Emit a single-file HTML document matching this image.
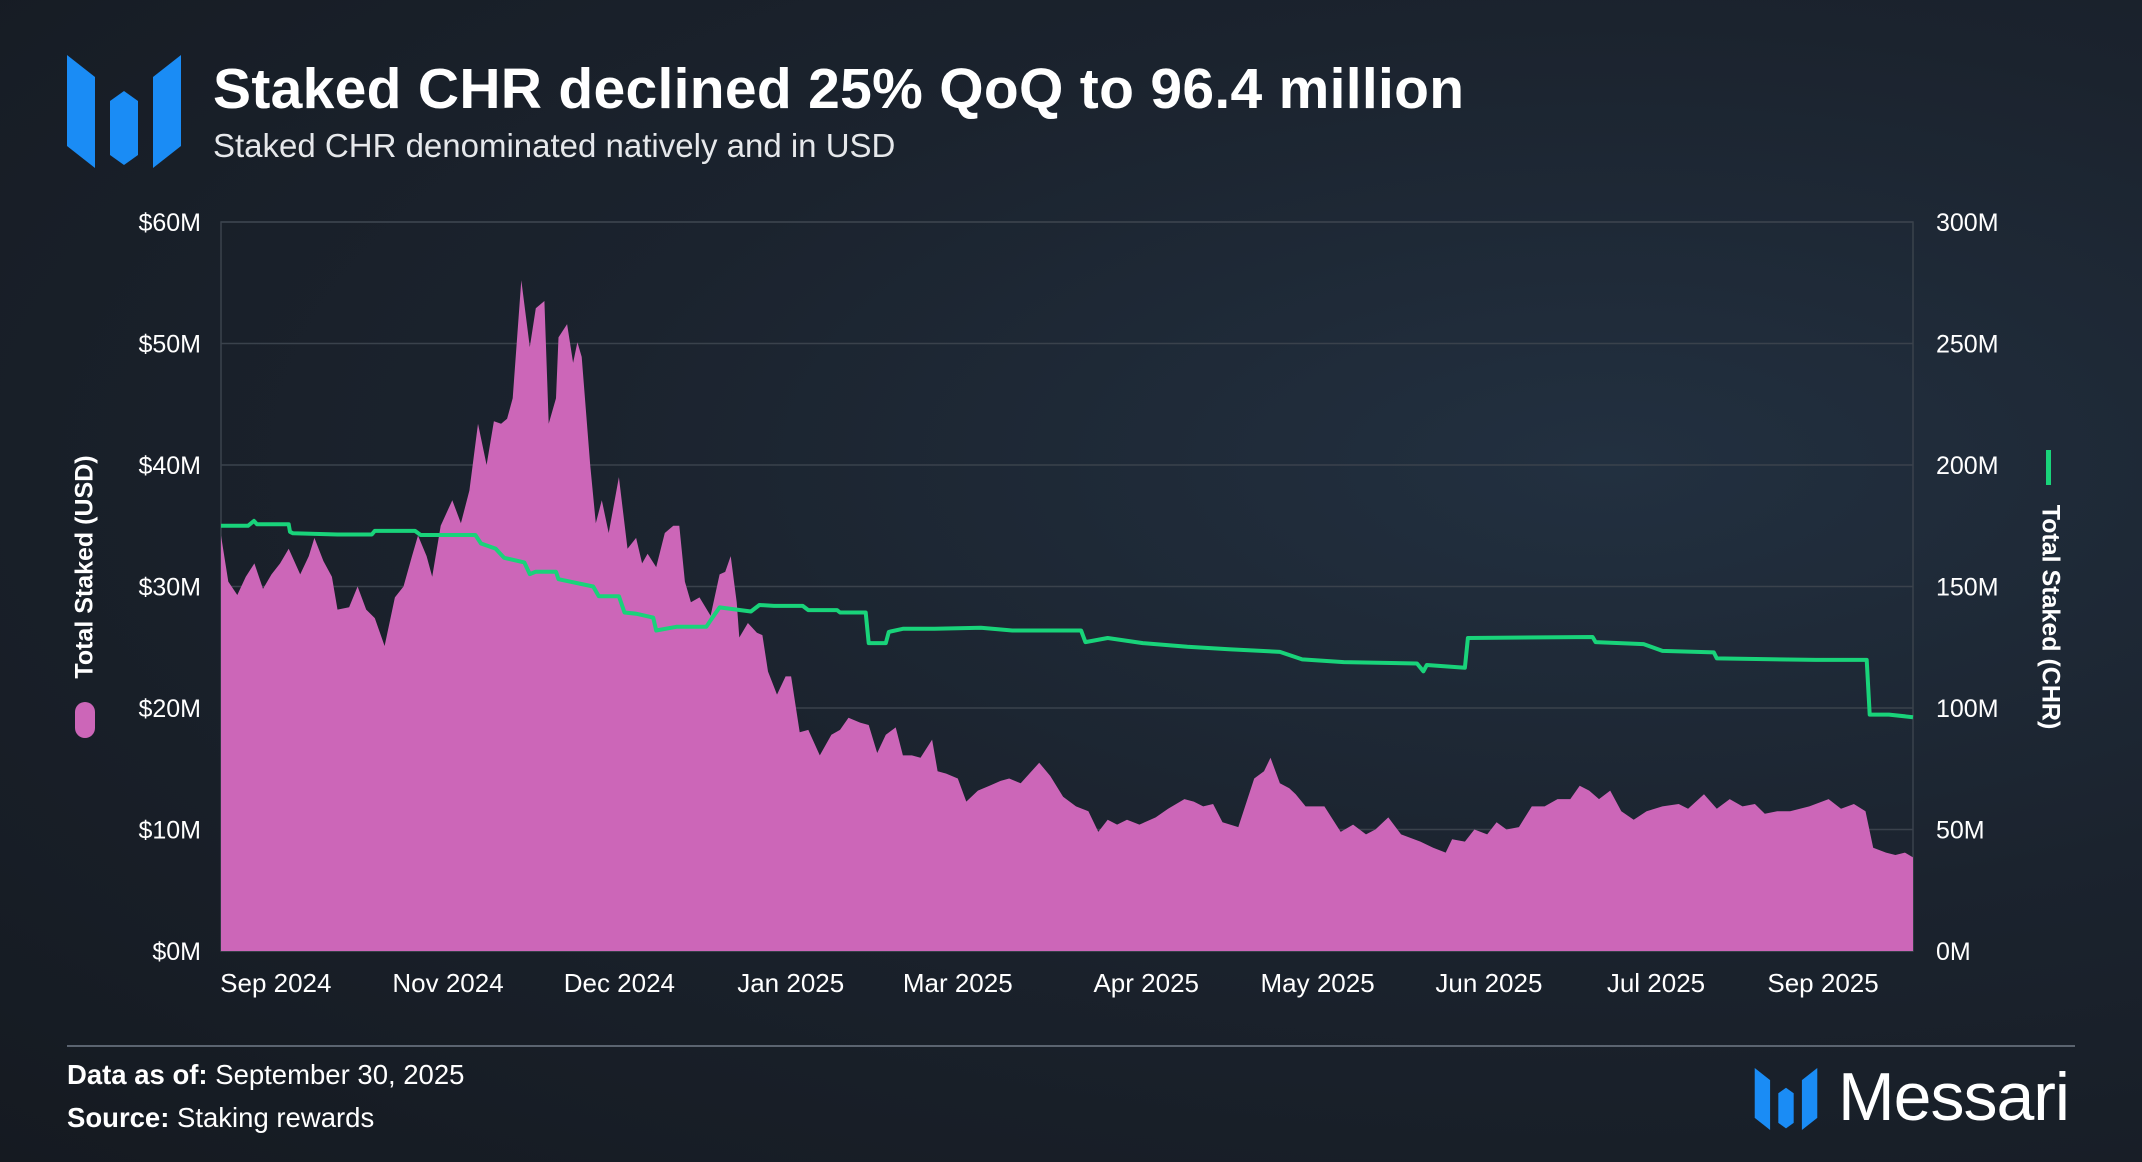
<!DOCTYPE html>
<html><head><meta charset="utf-8">
<style>
html,body{margin:0;padding:0}
body{width:2142px;height:1162px;overflow:hidden;background:radial-gradient(ellipse at 75% 40%,#223040 0%,#1b232e 45%,#151a21 100%);font-family:"Liberation Sans",sans-serif;color:#fff;position:relative}
.t{position:absolute;white-space:nowrap}
</style></head><body>
<svg style="position:absolute;left:67px;top:55px" width="114" height="113" viewBox="0 0 114 113">
<polygon points="0,0 28,22 28,113 0,91" fill="#1a8cf5"/>
<polygon points="43,46 57,36 71,46 71,100 57,110 43,100" fill="#1a8cf5"/>
<polygon points="86,22 114,0 114,91 86,113" fill="#1a8cf5"/>
</svg>
<div class="t" style="left:213px;top:56px;font-size:57px;font-weight:bold;letter-spacing:0.3px">Staked CHR declined 25% QoQ to 96.4 million</div>
<div class="t" style="left:213px;top:127px;font-size:33px;color:#e6e8eb">Staked CHR denominated natively and in USD</div>

<svg id="chart" style="position:absolute;left:0;top:0" width="2142" height="1162"></svg>

<div class="t" style="left:85px;top:567px;font-size:25px;font-weight:bold;transform:translate(-50%,-50%) rotate(-90deg)">Total Staked (USD)</div>
<div style="position:absolute;left:75px;top:702px;width:20px;height:36px;border-radius:10px;background:#cc66b8"></div>
<div class="t" style="left:2050px;top:617px;font-size:25px;font-weight:bold;transform:translate(-50%,-50%) rotate(90deg)">Total Staked (CHR)</div>
<div style="position:absolute;left:2046px;top:450px;width:5px;height:35px;background:#19d37a"></div>

<div style="position:absolute;left:67px;top:1045px;width:2008px;height:2px;background:#5b6470"></div>
<div class="t" style="left:67px;top:1059px;font-size:27.5px"><b>Data as of:</b> September 30, 2025</div>
<div class="t" style="left:67px;top:1102px;font-size:27.5px"><b>Source:</b> Staking rewards</div>
<svg style="position:absolute;left:1754px;top:1068px" width="64" height="62" viewBox="0 0 114 113">
<polygon points="0,0 28,22 28,113 0,91" fill="#1a8cf5"/>
<polygon points="43,46 57,36 71,46 71,100 57,110 43,100" fill="#1a8cf5"/>
<polygon points="86,22 114,0 114,91 86,113" fill="#1a8cf5"/>
</svg>
<div class="t" style="left:1838px;top:1058px;font-size:68px;letter-spacing:-1px">Messari</div>

<script>
const usdDay=[0,1.7,3.8,5.8,7.8,9.8,11.8,13.8,15.8,18.5,20.5,21.8,23.9,25.9,27.2,29.9,31.9,33.9,35.9,38.2,40.6,42.6,44.6,46,48,49.3,51.3,54,56,58,60,62,63.7,65.4,66.8,68.1,70.1,72.1,73.5,75.5,76.5,78.2,78.8,80.8,82.2,83.2,84.2,86.2,87.5,88.9,90.5,92.9,94.9,96.9,98.3,99.6,101.6,103.6,105.6,107,108.3,109.7,111.7,114.3,116.4,117.7,119,120.4,121,123,125.1,126.4,127.7,129.8,131.8,133.1,135.1,137.1,139.8,142.5,144.5,146.5,149.2,151.2,153.2,155.2,157.5,159.2,161.3,163.3,166,167.3,169.3,172,174,176.7,179.4,182,184,186.7,191,193.6,196.6,199.6,202.5,204.8,207,209.2,211.5,214.4,218.2,221.1,224.9,227.1,229.3,231.6,233.8,237.5,241.2,243.5,245,247.2,249.4,250.9,253.2,257.6,261.4,264.3,267.3,269.5,272.5,275.5,280,283,285.9,287.4,290.4,292.6,295.6,297.8,300.1,303,306,309,312,315,317.2,319.4,321.7,324.3,326.9,329.8,332.8,336.5,340.3,342.5,346.2,349.2,352.2,355.2,358.1,360.4,363.3,366.3,370.8,375.3,378.2,381.2,383.9,385.7,388.7,390.9,393.1,395];
const usdVal=[34.2,30.4,29.3,30.8,31.9,29.8,31.0,31.9,33.1,31.0,32.5,34.0,32.1,30.8,28.1,28.3,30.0,28.1,27.4,25.1,29.1,30.0,32.5,34.2,32.5,30.8,35.0,37.1,35.2,37.9,43.4,40.0,43.6,43.4,43.8,45.5,55.2,49.7,52.9,53.5,43.4,45.5,50.5,51.6,48.4,50.1,48.9,40.0,35.2,37.1,34.4,39.0,33.1,34.0,31.9,32.7,31.6,34.4,35.0,35.0,30.4,28.7,29.1,27.6,31.0,31.2,32.5,28.7,25.8,27.0,26.2,26.0,23.0,21.1,22.6,22.6,18.0,18.2,16.1,17.8,18.2,19.2,18.8,18.6,16.3,17.8,18.4,16.1,16.1,15.9,17.4,14.8,14.6,14.2,12.3,13.2,13.6,14.0,14.2,13.8,15.5,14.4,12.7,11.9,11.5,9.8,10.8,10.4,10.8,10.4,11.0,11.7,12.5,12.3,11.9,12.1,10.6,10.2,14.2,14.8,15.9,13.8,13.4,12.9,11.9,11.9,9.8,10.4,9.6,10.0,11.0,9.6,9.0,8.5,8.1,9.2,9.0,10.0,9.6,10.6,10.0,10.2,11.9,11.9,12.5,12.5,13.6,13.2,12.5,13.2,11.5,10.8,11.5,11.9,12.1,11.7,12.9,11.7,12.5,11.9,12.1,11.3,11.5,11.5,11.9,12.5,11.7,12.1,11.5,8.5,8.1,7.9,8.1,7.7];
const chrDay=[0,6.3,7.7,8.4,15.8,16.1,16.8,27.2,35.2,35.9,45.3,46.6,59.4,60.7,64.1,66.1,70.8,72.1,73.5,78.2,78.8,86.9,88.2,92.9,94.2,96.9,100.9,101.6,106.3,113.3,114.3,116.4,123.7,125.7,129.1,135.8,137.1,143.8,144.5,150.5,151.2,155.2,155.9,159.2,166.6,177.4,184.7,200.8,201.8,207,215.2,225.6,235.3,247.2,252.4,262.1,279.2,280.7,281.5,290.4,291.1,320.2,320.9,332.1,336.5,348.5,349.2,372.3,384.2,384.9,389.4,395];
const chrVal=[175,175,177,175.6,175.6,172.5,171.9,171.4,171.4,172.9,172.9,171.2,171.2,167.7,165.6,161.8,159.9,155.1,156.1,156.1,153,150,146,146,139.3,138.8,137.2,131.9,133.4,133.4,136.1,141.4,139.7,142.4,142,142,140.3,140.3,139.3,139.3,126.7,126.7,131.3,132.6,132.6,133,131.9,131.9,127.1,128.8,126.7,125.2,124.2,123.1,120,118.9,118.3,115.1,117.7,116.6,128.8,129.2,127.1,126.3,123.5,122.9,120.4,119.8,119.8,97.3,97.3,96.2];
const xTickLabels=["Sep 2024","Nov 2024","Dec 2024","Jan 2025","Mar 2025","Apr 2025","May 2025","Jun 2025","Jul 2025","Sep 2025"];
const xTickDays=[12.8,53,93,133,172,216,256,296,335,374];
const leftTicks=[0,10,20,30,40,50,60];
const rightTicks=[0,50,100,150,200,250,300];

const L=221,R=1913,T=222,B=951,DMAX=395;
const x=d=>L+(R-L)*d/DMAX;
const yL=v=>B-(B-T)*v/60;
const yR=v=>B-(B-T)*v/300;
const svg=document.getElementById('chart');
const NS='http://www.w3.org/2000/svg';
function mk(tag,attrs){const e=document.createElementNS(NS,tag);for(const k in attrs)e.setAttribute(k,attrs[k]);svg.appendChild(e);return e;}

leftTicks.forEach((v,i)=>{
  const g=mk('line',{x1:L,x2:R,y1:yL(v),y2:yL(v),stroke:'#3a424c','stroke-width':1.5});
  
  
  const t=mk('text',{x:201,y:yL(v)+9,'text-anchor':'end',fill:'#fff','font-size':25,'font-family':'Liberation Sans, sans-serif'});
  t.textContent='$'+v+'M';
  
  
});
rightTicks.forEach(v=>{
  const t=mk('text',{x:1936,y:yR(v)+9,fill:'#fff','font-size':25,'font-family':'Liberation Sans, sans-serif'});
  t.textContent=v+'M';
  
  
});
const fr=mk('rect',{x:L,y:T,width:R-L,height:B-T,fill:'none',stroke:'#3a424c','stroke-width':1.5});



let d='M'+x(usdDay[0])+','+B;
usdDay.forEach((dd,i)=>{d+=' L'+x(dd).toFixed(1)+','+yL(usdVal[i]).toFixed(1);});
d+=' L'+x(usdDay[usdDay.length-1])+','+B+' Z';
const area=mk('path',{d:d,fill:'#cc66b8'});



const pts=chrDay.map((dd,i)=>x(dd).toFixed(1)+','+yR(chrVal[i]).toFixed(1)).join(' ');
const line=mk('polyline',{points:pts,fill:'none',stroke:'#19d37a','stroke-width':4,'stroke-linejoin':'round'});



xTickLabels.forEach((lab,i)=>{
  const t=mk('text',{x:x(xTickDays[i]),y:992,'text-anchor':'middle',fill:'#fff','font-size':26,'font-family':'Liberation Sans, sans-serif'});
  t.textContent=lab;
  
  
});
</script>
</body></html>
